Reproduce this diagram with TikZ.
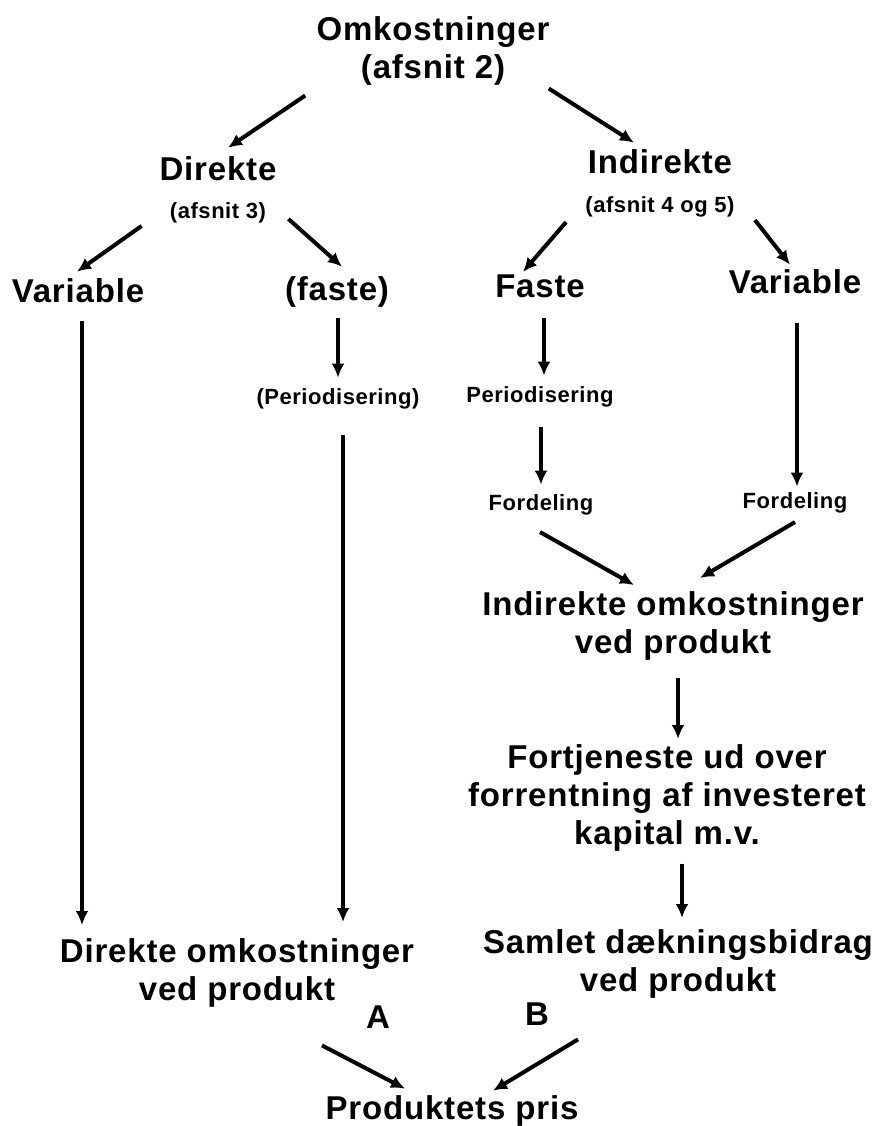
\documentclass[tikz,border=0pt]{standalone}
\usepackage{fontspec}
\setmainfont{Liberation Sans}[LetterSpace=2.5]
\usetikzlibrary{arrows.meta}

\begin{document}
\begin{tikzpicture}[x=0.5pt, y=-0.5pt]
\tikzstyle{bigtxt} = [font=\bfseries\fontsize{16.5}{19}\selectfont, inner sep=0pt]
\tikzstyle{smalltxt} = [font=\bfseries\fontsize{11}{13}\selectfont, inner sep=0pt]
\tikzstyle{arr} = [-{Latex[length=7pt, width=6.5pt]}, line width=2pt]
\useasboundingbox (0,0) rectangle (877,1126);
% top
\node[bigtxt, align=center, anchor=north] (omk) at (433,16) {Omkostninger\\(afsnit 2)};
\node[bigtxt, anchor=base] (dir) at (218,180) {Direkte};
\node[smalltxt, anchor=base] (dirsec) at (218,218) {(afsnit 3)};
\node[bigtxt, anchor=base] (ind) at (660,173) {Indirekte};
\node[smalltxt, anchor=base] (indsec) at (660,212) {(afsnit 4 og 5)};
% second level
\node[bigtxt, anchor=base] (dvar) at (78,302) {Variable};
\node[bigtxt, anchor=base] (dfast) at (337,300) {(faste)};
\node[bigtxt, anchor=base] (ifast) at (540,297) {Faste};
\node[bigtxt, anchor=base] (ivar) at (795,293) {Variable};
\node[smalltxt, anchor=base] (dper) at (338,404) {(Periodisering)};
\node[smalltxt, anchor=base] (iper) at (540,402) {Periodisering};
\node[smalltxt, anchor=base] (ifor1) at (541,510) {Fordeling};
\node[smalltxt, anchor=base] (ifor2) at (795,508) {Fordeling};
% right column
\node[bigtxt, align=center, anchor=north] (indomk) at (673,591) {Indirekte omkostninger\\ved produkt};
\node[bigtxt, align=center, anchor=north] (fort) at (667,744) {Fortjeneste ud over\\forrentning af investeret\\kapital m.v.};
\node[bigtxt, align=center, anchor=north] (samlet) at (678,929) {Samlet dækningsbidrag\\ved produkt};
% bottom
\node[bigtxt, align=center, anchor=north] (dom) at (237,938) {Direkte omkostninger\\ved produkt};
\node[bigtxt, anchor=base] (A) at (378,1028) {A};
\node[bigtxt, anchor=base] (B) at (537,1025) {B};
\node[bigtxt, anchor=base] (pris) at (452,1119) {Produktets pris};
% arrows
\draw[arr] ([shift={(-11,10)}]omk.south west) -- ([shift={(10,-8)}]dir.north);
\draw[arr] ([shift={(-1,3)}]omk.south east) -- ([shift={(-26,-6)}]ind.north);
\draw[arr] ([shift={(-28,3)}]dirsec.south west) -- ([shift={(-1,-6)}]dvar.north);
\draw[arr] ([shift={(22,-4)}]dirsec.south east) -- ([shift={(5,-9)}]dfast.north);
\draw[arr] ([shift={(-19,5)}]indsec.south west) -- ([shift={(-17,-2)}]ifast.north);
\draw[arr] ([shift={(20,3)}]indsec.south east) -- ([shift={(-5,-4)}]ivar.north);
\draw[arr] ([shift={(4,18)}]dvar.south) -- ([shift={(-155,-13)}]dom.north);
\draw[arr] ([shift={(1,11)}]dfast.south) -- ([shift={(0,-10)}]dper.north);
\draw[arr] ([shift={(5,26)}]dper.south) -- ([shift={(106,-16)}]dom.north);
\draw[arr] ([shift={(4,20)}]ifast.south) -- ([shift={(4,-10)}]iper.north);
\draw[arr] ([shift={(1,20)}]iper.south) -- ([shift={(0,-9)}]ifor1.north);
\draw[arr] ([shift={(2,29)}]ivar.south) -- ([shift={(2,-5)}]ifor2.north);
\draw[arr] ([shift={(-1,17)}]ifor1.south) -- ([shift={(-39,-6)}]indomk.north);
\draw[arr] ([shift={(0,9)}]ifor2.south) -- ([shift={(27,-13)}]indomk.north);
\draw[arr] ([shift={(5,17)}]indomk.south) -- ([shift={(11,-5)}]fort.north);
\draw[arr] ([shift={(15,12)}]fort.south) -- ([shift={(4,-11)}]samlet.north);
\draw[arr] ([shift={(-56,17)}]A.south) -- ([shift={(-47,-6)}]pris.north);
\draw[arr] ([shift={(41,14)}]B.south) -- ([shift={(41,-4)}]pris.north);
\end{tikzpicture}
\end{document}
